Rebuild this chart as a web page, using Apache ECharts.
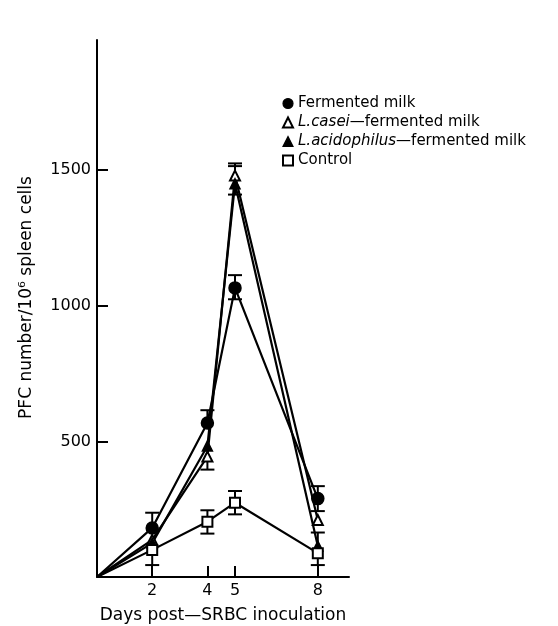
<!DOCTYPE html>
<html><head><meta charset="utf-8">
<script src="https://cdn.jsdelivr.net/npm/echarts@6/dist/echarts.min.js"></script>
<style>html,body{margin:0;padding:0;background:#fff}#c{width:558px;height:626px}</style>
</head><body><div id="c"></div>
<script>
// ---- data ----
const days = [2, 4, 5, 8];
const fermented = [181, 568, 1066, 289];
const casei = [137, 444, 1480, 210];
const acidophilus = [125, 483, 1450, 114];
const control = [100, 204, 274, 88];
// error bars: [up, down] per day (0 = not drawn)
const fermentedErrUp = [56, 47, 47, 46], fermentedErrDn = [0, 0, 42, 46];
const caseiErrUp = [0, 0, 45, 0], caseiErrDn = [0, 48, 0, 0];
const acidErrUp = [0, 0, 65, 50], acidErrDn = [0, 0, 40, 0];
const controlErrUp = [0, 42, 43, 0], controlErrDn = [56, 44, 43, 44];
const xTicks = [2, 4, 5, 8];
const yTicks = [500, 1000, 1500];
const seriesNames = ['Fermented milk', 'L.casei—fermented milk', 'L.acidophilus—fermented milk', 'Control'];

const font = 'DejaVu Sans';
function lineData(vals) {
  return [{value: [0, 0], symbol: 'none'}].concat(days.map((d, i) => [d, vals[i]]));
}
function errData(vals, up, dn) {
  return days.map((d, i) => [d, vals[i], up[i], dn[i]]);
}
function renderErr(params, api) {
  const x = api.value(0), y = api.value(1), up = api.value(2), dn = api.value(3);
  const children = [];
  const p = api.coord([x, y]);
  const cap = 7;
  const st = {stroke: '#000', lineWidth: 2};
  if (up > 0) {
    const t = api.coord([x, y + up]);
    children.push({type: 'line', shape: {x1: p[0], y1: p[1], x2: t[0], y2: t[1]}, style: st});
    children.push({type: 'line', shape: {x1: t[0] - cap, y1: t[1], x2: t[0] + cap, y2: t[1]}, style: st});
  }
  if (dn > 0) {
    const b = api.coord([x, y - dn]);
    children.push({type: 'line', shape: {x1: p[0], y1: p[1], x2: b[0], y2: b[1]}, style: st});
    children.push({type: 'line', shape: {x1: b[0] - cap, y1: b[1], x2: b[0] + cap, y2: b[1]}, style: st});
  }
  return {type: 'group', children: children};
}
const symbols = ['circle', 'emptyTriangle', 'triangle', 'emptyRect'];
const sizes = [12, 10, 10, 10];
const allVals = [fermented, casei, acidophilus, control];
const ups = [fermentedErrUp, caseiErrUp, acidErrUp, controlErrUp];
const dns = [fermentedErrDn, caseiErrDn, acidErrDn, controlErrDn];

const series = [];
allVals.forEach((v, k) => {
  series.push({type: 'custom', renderItem: renderErr, data: errData(v, ups[k], dns[k]), z: 1, silent: true});
});
allVals.forEach((v, k) => {
  series.push({
    name: seriesNames[k], type: 'line', data: lineData(v), symbol: symbols[k], symbolSize: sizes[k],
    lineStyle: {color: '#000', width: 2.2}, itemStyle: {color: '#000', borderColor: '#000', borderWidth: 1.5},
    z: 3, animation: false
  });
});

const chart = echarts.init(document.getElementById('c'), null, {renderer: 'canvas'});
chart.setOption({
  animation: false,
  backgroundColor: '#fff',
  grid: {left: 97, right: 209, top: 40, bottom: 49, containLabel: false, outerBoundsMode: 'none'},
  legend: {
    orient: 'vertical', left: 277, top: 91, itemGap: 4, itemWidth: 10, itemHeight: 10,
    data: seriesNames.map((n, k) => ({name: n, icon: ['circle', 'emptyTriangle', 'triangle', 'emptyRect'][k]})),
    textStyle: {fontFamily: font, fontSize: 15, lineHeight: 15, color: '#000',
      rich: {i: {fontFamily: font, fontSize: 15, lineHeight: 15, fontStyle: 'italic', color: '#000'}}},
    formatter: function (n) {
      if (n.indexOf('—') > 0) { const parts = n.split('—'); return '{i|' + parts[0] + '}—' + parts[1]; }
      return n;
    },
    itemStyle: {color: '#000', borderColor: '#000', borderWidth: 1.2}
  },
  xAxis: {
    type: 'value', min: 0, max: 9.13,
    name: 'Days post—SRBC inoculation', nameLocation: 'middle', nameGap: 30,
    nameTextStyle: {fontFamily: font, fontSize: 17, color: '#000'},
    axisLine: {show: true, onZero: false, lineStyle: {color: '#000', width: 2}},
    axisTick: {show: true, inside: true, length: 11, customValues: xTicks, lineStyle: {color: '#000', width: 2}},
    axisLabel: {show: true, customValues: xTicks, fontFamily: font, fontSize: 16, color: '#000', margin: 6,
      formatter: v => String(v)},
    splitLine: {show: false}
  },
  yAxis: {
    type: 'value', min: 0, max: 1980,
    name: 'PFC number/10⁶ spleen cells', nameLocation: 'middle', nameGap: 62, nameRotate: 90,
    nameTextStyle: {fontFamily: font, fontSize: 17, color: '#000', padding: [0, 0, 0, 22]},
    axisLine: {show: true, lineStyle: {color: '#000', width: 2}},
    axisTick: {show: true, inside: true, length: 11, customValues: yTicks, lineStyle: {color: '#000', width: 2}},
    axisLabel: {show: true, customValues: yTicks, fontFamily: font, fontSize: 16, color: '#000', margin: 6,
      formatter: v => String(v)},
    splitLine: {show: false}
  },
  series: series
});
</script></body></html>
